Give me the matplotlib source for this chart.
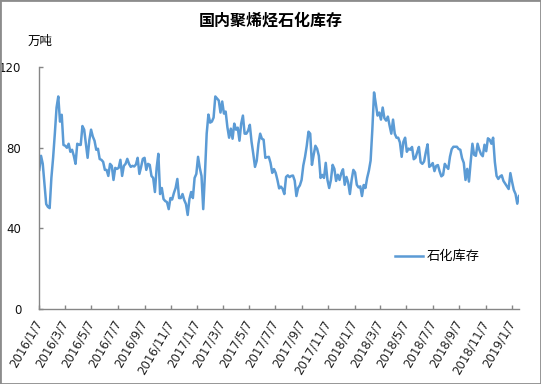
import matplotlib
matplotlib.use("Agg")
import matplotlib.pyplot as plt
import pandas as pd
from matplotlib.patches import Rectangle

# Schrift: lateinische Zeichen in DejaVu, chinesische in Noto CJK
plt.rcParams["font.family"] = ["DejaVu Sans", "Noto Sans CJK SC"]

title = "国内聚烯烃石化库存"
unit = "万吨"
series_name = "石化库存"

start_date = "2016-01-07"
step = "4D"
inventory = [
    69, 76, 72, 62, 52, 50.6, 50, 65, 75, 87, 100, 105.5, 93, 96.4, 81.4, 81,
    80, 82, 78, 79, 76, 72, 82, 81.5, 81.4, 90.8, 89, 82, 75, 83.8, 89, 85.6,
    83.5, 79, 79.5, 74.4, 74, 73, 69, 69, 66,
    72, 71, 64, 70, 69.5, 70, 74, 66, 71, 72, 74.5, 72, 70.5, 71, 70.7, 71.7,
    75, 67, 70.5, 74.5, 75, 69, 72, 71.5, 66, 65, 58, 70, 77, 57, 60, 54.5,
    53.5, 53, 49.5, 55, 54.3, 57.5, 60, 64.5, 55,
    55, 57, 54, 52, 46.6, 54.5, 58, 55, 65, 67, 75.5, 70, 66, 49.5, 67, 87,
    96.5, 92.5, 93, 95, 105.5, 104.5, 103.5, 97.5, 103, 97, 98, 90.3, 85, 89.5,
    84.5, 92, 89, 90, 83.5, 92, 96, 87, 87, 88.5,
    91.4, 83, 77, 70.5, 73.5, 82, 87, 84.5, 84, 75, 75.3, 75.5, 72.5, 67.5,
    69.4, 67.5, 64, 59.8, 60.7, 59.6, 57, 65.5, 66.3, 65.4, 66, 66.2, 63.7, 56,
    60, 61.3, 64, 71.2, 75.5, 81, 88, 87, 71.5, 76.5, 81, 79.5, 76,
    65, 66.5, 65, 72.5, 64, 60, 64, 71.5, 69.5, 63.5, 66.6, 64, 67.3, 69.3,
    61.6, 65.5, 62.7, 57, 64, 69, 67.7, 61.6, 60.3, 60.8, 56, 61.5, 60, 65,
    68.6, 73.6, 89, 107.5, 102, 96, 97.5, 94, 100, 94.7, 93.5, 95.5,
    91, 87, 94, 87, 85, 85, 82.6, 75.5, 83, 85, 78, 79.6, 79, 80.4, 74.3, 75,
    77.8, 80.4, 72.8, 72, 73.2, 77.8, 81.7, 70.5, 71.2, 72.4, 68.4, 71, 71.4,
    68.3, 65.8, 66.5, 72, 70.6, 69.5, 75.6, 79.3, 80.5, 80.5, 80.5, 79.4,
    79, 74.8, 72.5, 64, 69.5, 63.2, 73, 82, 76.5, 76, 82, 79, 76.8, 75.8, 81.5,
    78.3, 84.7, 84, 82, 85, 73, 66, 64.5, 65.7, 66.3, 63.5, 62.2, 61, 59.5,
    67.4, 63, 59, 57, 52.2, 56,
]

tick_labels = [
    "2016/1/7", "2016/3/7", "2016/5/7", "2016/7/7", "2016/9/7", "2016/11/7",
    "2017/1/7", "2017/3/7", "2017/5/7", "2017/7/7", "2017/9/7", "2017/11/7",
    "2018/1/7", "2018/3/7", "2018/5/7", "2018/7/7", "2018/9/7", "2018/11/7",
    "2019/1/7",
]
y_ticks = [0, 40, 80, 120]

W, H = 541, 384
axis_color = "#868686"
line_color = "#5B9BD5"

fig = plt.figure(figsize=(W / 100, H / 100), dpi=100)
ax = fig.add_axes([39.3 / W, 1 - 308.7 / H, (519 - 39.3) / W, (308.7 - 67.3) / H])

dates = pd.date_range(start_date, periods=len(inventory), freq=step)
ax.plot(dates, inventory, color=line_color, lw=1.8, label=series_name)

ax.set_xlim(dates[0], dates[-1])
ax.set_ylim(0, 120)
ax.set_yticks(y_ticks)

tick_dates = pd.to_datetime(tick_labels, format="%Y/%m/%d")
ax.set_xticks(tick_dates)
ax.set_xticklabels(tick_labels, rotation=60, ha="right", va="center",
                   rotation_mode="anchor", fontsize=8.5, color="#222222")

for side in ["top", "right"]:
    ax.spines[side].set_visible(False)
for side in ["left", "bottom"]:
    ax.spines[side].set_color(axis_color)
    ax.spines[side].set_linewidth(1.0)

ax.tick_params(axis="both", direction="in", length=3, color=axis_color, width=1)
ax.tick_params(axis="y", pad=13, labelsize=8.5, labelcolor="#111111")
ax.tick_params(axis="x", pad=9)

ax.legend(loc="center left", bbox_to_anchor=(395 / W, 1 - 256.7 / H),
          bbox_transform=fig.transFigure, frameon=False, fontsize=9.5,
          borderpad=0, borderaxespad=0, handlelength=2.1, handletextpad=0.3)

# Titel und Einheit
fig.text(0.5, 1 - 21 / H, title, ha="center", va="center",
         fontsize=11.5, fontweight="bold")
fig.text(28 / W, 1 - 41 / H, unit, ha="left", va="center", fontsize=9)

# grauer Rahmen um das ganze Bild
fig.patches.append(Rectangle((0, 0), 1, 1, transform=fig.transFigure,
                             fill=False, edgecolor="#8c8c8c", lw=2))

fig.savefig("out.png", dpi=100)
